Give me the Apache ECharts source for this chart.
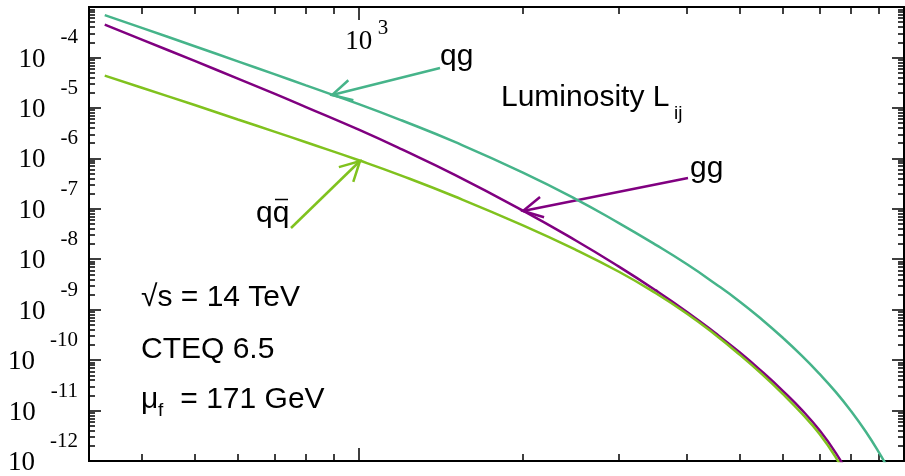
<!DOCTYPE html>
<html>
<head>
<meta charset="utf-8">
<script src="https://cdn.jsdelivr.net/npm/echarts@6/dist/echarts.min.js"></script>
<style>
html, body { margin: 0; padding: 0; background: #fff; }
#main { width: 905px; height: 476px; }
</style>
</head>
<body>
<div id="main"></div>
<script>
// invariant mass (GeV) and parton luminosities
var mass = [342, 400, 500, 600, 700, 800, 1000, 1200, 1500, 2000, 2500, 3000, 3500,
            4000, 4500, 5000, 5500, 6000, 6500, 7000, 7500, 8000, 8500, 9000, 9500];
var lumQg = [6.90e-4, 3.85e-4, 1.67e-4, 8.38e-5, 4.67e-5, 2.79e-5, 1.19e-5, 5.62e-6, 2.11e-6,
             5.22e-7, 1.56e-7, 5.20e-8, 1.95e-8, 7.93e-9, 3.31e-9, 1.44e-9, 6.25e-10,
             2.74e-10, 1.21e-10, 5.32e-11, 2.32e-11, 9.68e-12, 3.88e-12, 1.46e-12, 5.27e-13];
var lumGg = [4.48e-4, 2.26e-4, 8.53e-5, 3.81e-5, 1.92e-5, 1.04e-5, 3.69e-6, 1.50e-6, 4.71e-7,
             9.20e-8, 2.35e-8, 7.13e-9, 2.44e-9, 9.03e-10, 3.48e-10, 1.41e-10, 5.81e-11,
             2.43e-11, 1.02e-11, 4.05e-12, 1.43e-12, 4.36e-13, null, null, null];
var lumQqbar = [4.36e-5, 2.51e-5, 1.14e-5, 5.89e-6, 3.39e-6, 2.08e-6, 9.16e-7, 4.50e-7, 1.75e-7,
                4.69e-8, 1.54e-8, 5.65e-9, 2.14e-9, 8.30e-10, 3.22e-10, 1.27e-10, 5.15e-11,
                2.11e-11, 8.65e-12, 3.44e-12, 1.17e-12, 3.34e-13, null, null, null];

// tick labels: powers of ten
var yLabelExps = [-12, -11, -10, -9, -8, -7, -6, -5, -4];
var yMajorExps = [-12, -11, -10, -9, -8, -7, -6, -5, -4, -3];
var xLabelExps = [3];
var xMajor = [1000, 10000];
var xMinor = [400, 500, 600, 700, 800, 900, 2000, 3000, 4000, 5000, 6000, 7000, 8000, 9000];

var colQg = '#46b48a', colGg = '#800080', colQq = '#80c21e';

var pow10 = function (e) { return Number('1e' + e); };
var yMajor = yMajorExps.map(pow10);
var yLabels = yLabelExps.map(pow10);
var yMinor = [];
for (var d = -12; d <= -4; d++) {
  for (var k = 2; k <= 9; k++) yMinor.push(k * pow10(d));
}

function pairs(ys) {
  var out = [];
  mass.forEach(function (m, i) { if (ys[i] != null) out.push([m, ys[i]]); });
  return out;
}

var serif = '"Liberation Serif", "DejaVu Serif", serif';
var sans = '"Liberation Sans", Arial, sans-serif';
var expOf = function (v) { return Math.round(Math.log10(v)); };

function xAx(pos, ticks, len, label) {
  return {
    type: 'log', logBase: 10, position: pos, min: 320, max: 10000,
    axisLine: { show: true, lineStyle: { color: '#000', width: 2 } },
    axisTick: { show: true, inside: true, length: len, customValues: ticks,
                lineStyle: { color: '#000', width: 1.5 } },
    axisLabel: label || { show: false },
    splitLine: { show: false }, minorTick: { show: false }
  };
}
function yAx(pos, ticks, len, label) {
  return {
    type: 'log', logBase: 10, position: pos, min: 1e-12, max: 1e-3,
    axisLine: { show: true, lineStyle: { color: '#000', width: 2 } },
    axisTick: { show: true, inside: true, length: len, customValues: ticks,
                lineStyle: { color: '#000', width: 1.5 } },
    axisLabel: label || { show: false },
    splitLine: { show: false }, minorTick: { show: false }
  };
}

// base "10" of the y labels, with an invisible copy of the exponent to keep room for it
var yBaseLabel = {
  show: true, customValues: yLabels, margin: 11, align: 'right', verticalAlign: 'middle',
  showMinLabel: true, showMaxLabel: true, hideOverlap: false, color: '#000',
  formatter: function (v) { return '{b|10}{h|' + expOf(v) + '}'; },
  rich: {
    b: { fontFamily: serif, fontSize: 27, lineHeight: 30, padding: [4, 0, 0, 0], color: '#000' },
    h: { fontFamily: serif, fontSize: 21, lineHeight: 22, padding: [0, 0, 0, 15], color: 'rgba(0,0,0,0)' }
  }
};
// raised exponents
var yExpLabel = {
  show: true, customValues: yLabels, margin: 11, align: 'right', verticalAlign: 'bottom',
  showMinLabel: true, showMaxLabel: true, hideOverlap: false, color: '#000',
  formatter: function (v) { return '{s|' + expOf(v) + '}'; },
  rich: {
    s: { fontFamily: serif, fontSize: 21, lineHeight: 22, padding: [0, 0, 17, 0], color: '#000' }
  }
};
var xBaseLabel = {
  show: true, inside: true, customValues: xLabelExps.map(pow10), margin: 20,
  align: 'center', verticalAlign: 'top', hideOverlap: false,
  showMinLabel: true, showMaxLabel: true,
  formatter: function () { return '{b|10}'; },
  rich: { b: { fontFamily: serif, fontSize: 27, lineHeight: 30, color: '#000' } }
};
var xExpLabel = {
  show: true, inside: true, customValues: xLabelExps.map(pow10), margin: 10,
  align: 'left', verticalAlign: 'top', hideOverlap: false,
  showMinLabel: true, showMaxLabel: true,
  formatter: function (v) { return '{s|' + expOf(v) + '}'; },
  rich: { s: { fontFamily: serif, fontSize: 21, lineHeight: 22, padding: [0, 0, 0, 19], color: '#000' } }
};

function arrow(tail, tip, color) {
  var dx = tail[0] - tip[0], dy = tail[1] - tip[1];
  var L = Math.sqrt(dx * dx + dy * dy), ux = dx / L, uy = dy / L;
  var a = 28 * Math.PI / 180, len = 22;
  var c = Math.cos(a), s = Math.sin(a);
  var b1 = [tip[0] + len * (ux * c - uy * s), tip[1] + len * (ux * s + uy * c)];
  var b2 = [tip[0] + len * (ux * c + uy * s), tip[1] + len * (-ux * s + uy * c)];
  var st = { stroke: color, lineWidth: 2.5, fill: null };
  return [
    { type: 'polyline', shape: { points: [tail, tip] }, style: st },
    { type: 'polyline', shape: { points: [b1, tip, b2] }, style: st }
  ];
}
function txt(x, y, t, size, font) {
  return { type: 'text', x: x, y: y,
           style: { text: t, font: size + 'px ' + (font || sans), fill: '#000',
                    textAlign: 'left', textVerticalAlign: 'middle' } };
}

var graphics = []
  .concat(arrow([440, 68], [332, 95], colQg))
  .concat(arrow([688, 178], [523, 211], colGg))
  .concat(arrow([291, 228], [360, 161], colQq))
  .concat([
    txt(440, 57, 'qg', 30),
    txt(690, 169, 'gg', 30),
    txt(256, 214, 'qq', 30),
    { type: 'line', shape: { x1: 275, y1: 199.5, x2: 288, y2: 199.5 }, style: { stroke: '#000', lineWidth: 1.5 } },
    txt(501, 98, 'Luminosity L', 30),
    txt(674, 114, 'ij', 19),
    txt(141, 298, '√s = 14 TeV', 30),
    txt(141, 350, 'CTEQ 6.5', 30),
    txt(141, 400, 'μ', 30),
    txt(158, 411, 'f', 19),
    txt(172, 400, ' = 171 GeV', 30)
  ]);

var chart = echarts.init(document.getElementById('main'));

var option = {
  animation: false,
  backgroundColor: '#fff',
  grid: { left: 89, top: 7, width: 815, height: 454, containLabel: false, outerBoundsMode: 'none' },
  xAxis: [
    xAx('bottom', xMajor, 13),
    xAx('bottom', xMinor, 7),
    xAx('top', xMajor, 13, xBaseLabel),
    xAx('top', xMinor, 7, xExpLabel)
  ],
  yAxis: [
    yAx('left', yMajor, 12, yBaseLabel),
    yAx('left', yMinor, 6, yExpLabel),
    yAx('right', yMajor, 12),
    yAx('right', yMinor, 6)
  ],
  series: [
    { name: 'qg', type: 'line', data: pairs(lumQg), showSymbol: false, smooth: true,
      lineStyle: { color: colQg, width: 2.5 }, itemStyle: { color: colQg } },
    { name: 'gg', type: 'line', data: pairs(lumGg), showSymbol: false, smooth: true,
      lineStyle: { color: colGg, width: 2.5 }, itemStyle: { color: colGg } },
    { name: 'qqbar', type: 'line', data: pairs(lumQqbar), showSymbol: false, smooth: true,
      lineStyle: { color: colQq, width: 2.5 }, itemStyle: { color: colQq } }
  ],
  graphic: graphics
};

chart.setOption(option);
</script>
</body>
</html>
